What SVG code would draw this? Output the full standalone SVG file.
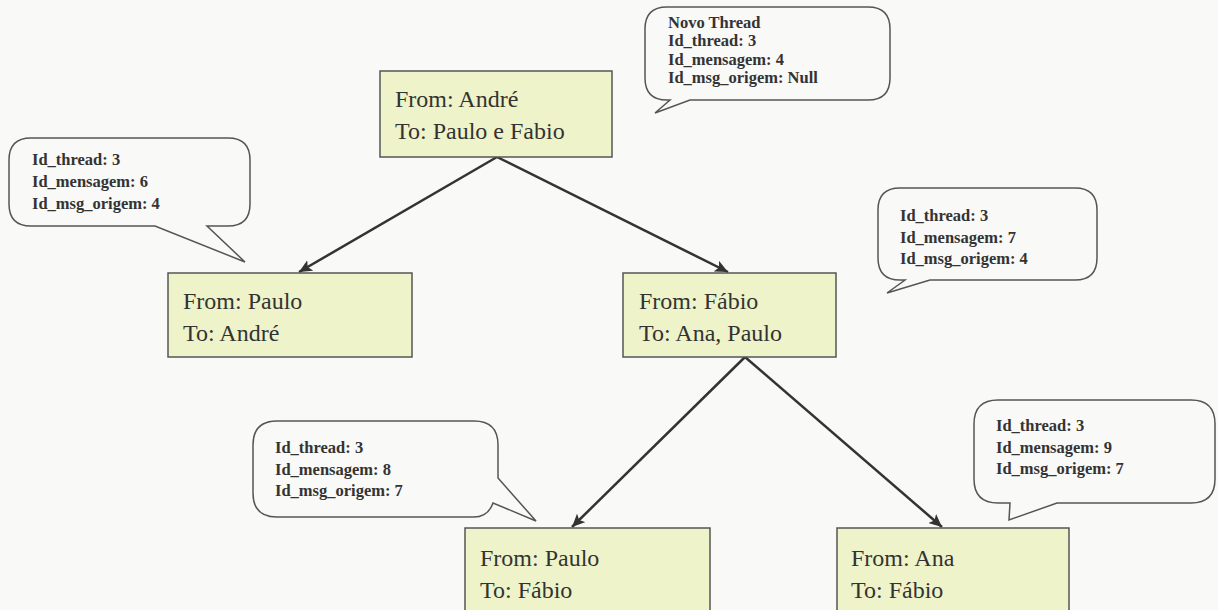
<svg xmlns="http://www.w3.org/2000/svg" width="1218" height="610" viewBox="0 0 1218 610">
  <style>
    .bg { fill: #f9f9f7; }
    .box { fill: #eef3c9; stroke: #555555; stroke-width: 1.5; }
    .bubble { fill: #f9f9f7; stroke: #555555; stroke-width: 1.5; stroke-linejoin: miter; }
    .nt { font-family: "Liberation Serif", "Times New Roman", serif; font-size: 24px; fill: #333333; }
    .bt { font-family: "Liberation Serif", "Times New Roman", serif; font-size: 16.5px; font-weight: bold; fill: #333333; }
    .edge { stroke: #333333; stroke-width: 2.5; fill: none; }
  </style>
  <defs>
    <marker id="arrow" markerUnits="userSpaceOnUse" markerWidth="14" markerHeight="12" refX="13" refY="6" orient="auto">
      <path d="M0,0 L13,6 L0,12 L3,6 Z" fill="#333333"/>
    </marker>
  </defs>
  <rect class="bg" x="0" y="0" width="1218" height="610"/>

  <g id="connectors">
    <line class="edge" x1="497" y1="157" x2="299" y2="272" marker-end="url(#arrow)"/>
    <line class="edge" x1="497" y1="157" x2="728" y2="272" marker-end="url(#arrow)"/>
    <line class="edge" x1="745" y1="357" x2="572" y2="527" marker-end="url(#arrow)"/>
    <line class="edge" x1="745" y1="357" x2="942" y2="527" marker-end="url(#arrow)"/>
  </g>

  <g id="node-andre">
    <rect class="box" x="380" y="71" width="232" height="86"/>
    <text class="nt" x="395" y="107">From: André</text>
    <text class="nt" x="395" y="139">To: Paulo e Fabio</text>
  </g>

  <g id="node-paulo1">
    <rect class="box" x="168" y="273" width="244" height="84"/>
    <text class="nt" x="183" y="309">From: Paulo</text>
    <text class="nt" x="183" y="341">To: André</text>
  </g>

  <g id="node-fabio">
    <rect class="box" x="623" y="273" width="213" height="84"/>
    <text class="nt" x="639" y="309">From: Fábio</text>
    <text class="nt" x="639" y="341">To: Ana, Paulo</text>
  </g>

  <g id="node-paulo2">
    <rect class="box" x="465" y="528" width="245" height="90"/>
    <text class="nt" x="480" y="566">From: Paulo</text>
    <text class="nt" x="480" y="598">To: Fábio</text>
  </g>

  <g id="node-ana">
    <rect class="box" x="837" y="528" width="232" height="90"/>
    <text class="nt" x="851" y="566">From: Ana</text>
    <text class="nt" x="851" y="598">To: Fábio</text>
  </g>

  <g id="callout-novo">
    <path class="bubble" d="M667,7 H868 Q890,7 890,29 V78 Q890,100 868,100 H690 L655,113 L670,100 H667 Q645,100 645,78 V29 Q645,7 667,7 Z"/>
    <text class="bt" x="668" y="28">Novo Thread</text>
    <text class="bt" x="668" y="46">Id_thread: 3</text>
    <text class="bt" x="668" y="65">Id_mensagem: 4</text>
    <text class="bt" x="668" y="83">Id_msg_origem: Null</text>
  </g>

  <g id="callout-6">
    <path class="bubble" d="M31,138 H228 Q250,138 250,160 V204 Q250,226 228,226 H207 L245,262 L155,226 H31 Q9,226 9,204 V160 Q9,138 31,138 Z"/>
    <text class="bt" x="32" y="165">Id_thread: 3</text>
    <text class="bt" x="32" y="187">Id_mensagem: 6</text>
    <text class="bt" x="32" y="209">Id_msg_origem: 4</text>
  </g>

  <g id="callout-7">
    <path class="bubble" d="M900,188 H1075 Q1097,188 1097,210 V258 Q1097,280 1075,280 H930 L887,293 L905,280 H900 Q878,280 878,258 V210 Q878,188 900,188 Z"/>
    <text class="bt" x="900" y="221">Id_thread: 3</text>
    <text class="bt" x="900" y="243">Id_mensagem: 7</text>
    <text class="bt" x="900" y="264">Id_msg_origem: 4</text>
  </g>

  <g id="callout-8">
    <path class="bubble" d="M277,421 H474 Q498,421 498,445 V478 L536,521 L493,503 Q488,517 474,517 H277 Q253,517 253,493 V445 Q253,421 277,421 Z"/>
    <text class="bt" x="275" y="453">Id_thread: 3</text>
    <text class="bt" x="275" y="475">Id_mensagem: 8</text>
    <text class="bt" x="275" y="496">Id_msg_origem: 7</text>
  </g>

  <g id="callout-9">
    <path class="bubble" d="M998,400 H1191 Q1215,400 1215,424 V479 Q1215,503 1191,503 H1057 L1009,520 L1010,503 H998 Q974,503 974,479 V424 Q974,400 998,400 Z"/>
    <text class="bt" x="996" y="431">Id_thread: 3</text>
    <text class="bt" x="996" y="453">Id_mensagem: 9</text>
    <text class="bt" x="996" y="474">Id_msg_origem: 7</text>
  </g>
</svg>
